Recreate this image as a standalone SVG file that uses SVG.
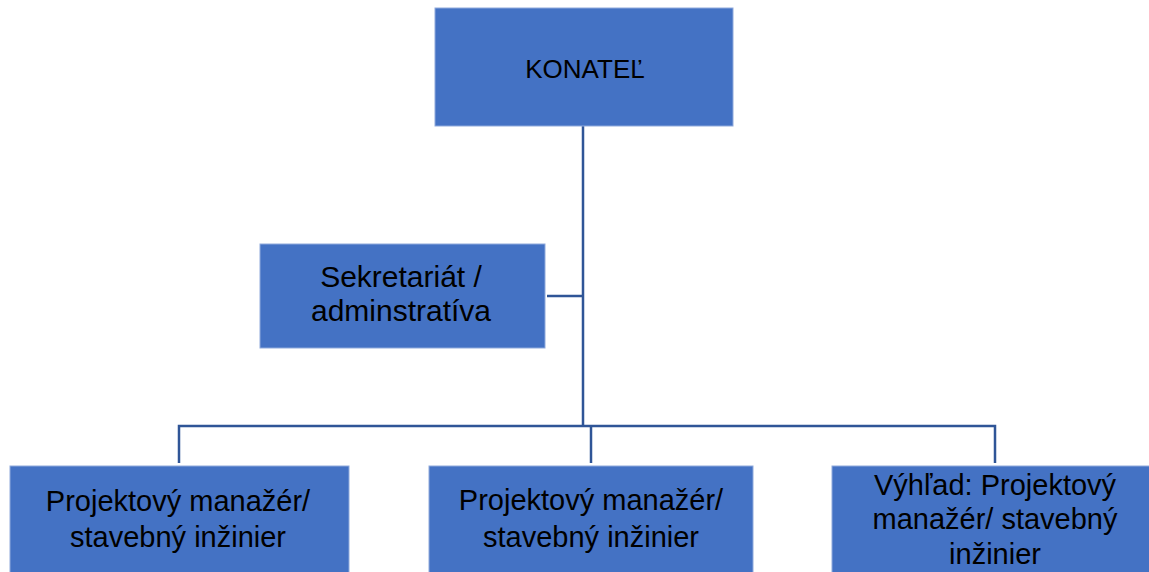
<svg xmlns="http://www.w3.org/2000/svg" width="1149" height="572" viewBox="0 0 1149 572">
<style>
.box{fill:#4472C4;stroke:#8FAADC;stroke-width:1}
.t{font-family:"Liberation Sans",Arial,sans-serif;font-size:29px;fill:#000;text-anchor:middle}
.c{fill:none;stroke:#2F5597;stroke-width:2.5}
</style>
<rect width="1149" height="572" fill="#fff"/>
<g id="connectors">
<path class="c" d="M583 126V426"/>
<path class="c" d="M547 296H583"/>
<path class="c" d="M179 463V426H995V463"/>
<path class="c" d="M591 426V463"/>
</g>
<g id="konatel">
<rect class="box" x="435" y="8" width="298" height="118"/>
<text class="t" x="585" y="78" style="font-size:26px">KONATEĽ</text>
</g>
<g id="sekretariat">
<rect class="box" x="260" y="244" width="285" height="104"/>
<text class="t" x="401" y="287" style="font-size:30px">Sekretariát /</text>
<text class="t" x="401" y="321" style="font-size:30px">adminstratíva</text>
</g>
<g id="pm1">
<rect class="box" x="10" y="466" width="339" height="120"/>
<text class="t" x="178" y="511">Projektový manažér/</text>
<text class="t" x="178" y="547">stavebný inžinier</text>
</g>
<g id="pm2">
<rect class="box" x="429" y="466" width="324" height="120"/>
<text class="t" x="591" y="510">Projektový manažér/</text>
<text class="t" x="591" y="547">stavebný inžinier</text>
</g>
<g id="pm3">
<rect class="box" x="832" y="466" width="330" height="120"/>
<text class="t" x="995" y="495">Výhľad: Projektový</text>
<text class="t" x="995" y="529">manažér/ stavebný</text>
<text class="t" x="995" y="564">inžinier</text>
</g>
</svg>
